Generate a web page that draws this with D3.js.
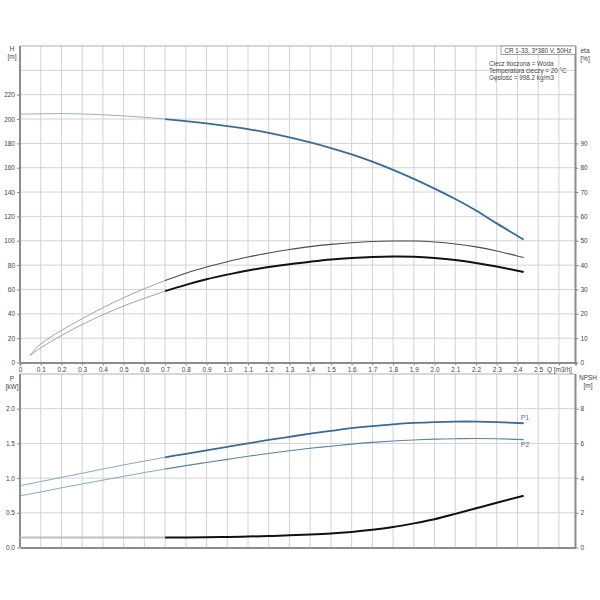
<!DOCTYPE html>
<html>
<head>
<meta charset="utf-8">
<script src="https://cdn.jsdelivr.net/npm/d3@7"></script>
<style>
	body { margin: 0; background: #fff; }
	text { font-family: "Liberation Sans", Arial, sans-serif; fill: #444; }
</style>
</head>
<body>
<div id="idContent"></div>
<script>
// Pump curve values
var aQ = [0, 0.1, 0.2, 0.3, 0.4, 0.5, 0.6, 0.7, 0.8, 0.9, 1.0, 1.1, 1.2, 1.3, 1.4, 1.5, 1.6, 1.7, 1.8, 1.9, 2.0, 2.1, 2.2, 2.3, 2.43];
var aH = [204, 204.3, 204.5, 204.2, 203.5, 202.6, 201.4, 200, 198.3, 196.4, 194.2, 191.7, 188.6, 184.9, 180.8, 176.2, 171.0, 165.0, 158.2, 150.8, 142.8, 134.3, 124.9, 114.3, 101];
var aP1 = [0.89, 0.95, 1.01, 1.07, 1.13, 1.19, 1.245, 1.30, 1.35, 1.40, 1.45, 1.50, 1.55, 1.595, 1.64, 1.68, 1.72, 1.75, 1.775, 1.795, 1.808, 1.815, 1.815, 1.808, 1.79];
var aP2 = [0.745, 0.80, 0.86, 0.915, 0.97, 1.025, 1.08, 1.13, 1.18, 1.225, 1.27, 1.315, 1.355, 1.395, 1.43, 1.46, 1.49, 1.515, 1.535, 1.55, 1.562, 1.568, 1.57, 1.567, 1.555];

var aQEta = [0.05, 0.1, 0.2, 0.3, 0.4, 0.5, 0.6, 0.7, 0.8, 0.9, 1.0, 1.1, 1.2, 1.3, 1.4, 1.5, 1.6, 1.7, 1.8, 1.9, 2.0, 2.1, 2.2, 2.3, 2.43];
var aEtaPump = [3.0, 7.6, 13.2, 18.0, 22.5, 26.6, 30.3, 33.7, 36.7, 39.2, 41.4, 43.3, 45.0, 46.4, 47.6, 48.5, 49.2, 49.7, 49.9, 49.9, 49.5, 48.7, 47.5, 45.8, 43.1];
var aEtaTotal = [3.0, 6.0, 11.1, 15.6, 19.6, 23.2, 26.4, 29.3, 31.9, 34.2, 36.1, 37.8, 39.2, 40.4, 41.4, 42.3, 42.9, 43.3, 43.5, 43.4, 42.9, 42.1, 40.9, 39.4, 37.2];

var aQNpsh = [0, 0.7, 0.8, 0.9, 1.0, 1.1, 1.2, 1.3, 1.4, 1.5, 1.6, 1.7, 1.8, 1.9, 2.0, 2.1, 2.2, 2.3, 2.43];
var aNpsh = [0.57, 0.57, 0.58, 0.59, 0.61, 0.63, 0.66, 0.70, 0.75, 0.81, 0.90, 1.02, 1.18, 1.39, 1.63, 1.94, 2.26, 2.58, 2.98];

var aQTicks = [0, 0.1, 0.2, 0.3, 0.4, 0.5, 0.6, 0.7, 0.8, 0.9, 1.0, 1.1, 1.2, 1.3, 1.4, 1.5, 1.6, 1.7, 1.8, 1.9, 2.0, 2.1, 2.2, 2.3, 2.4, 2.5, 2.6];
var aHTicks = [0, 20, 40, 60, 80, 100, 120, 140, 160, 180, 200, 220];
var aHGrid = [20, 40, 60, 80, 100, 120, 140, 160, 180, 200, 220, 240];
var aEtaTicks = [0, 10, 20, 30, 40, 50, 60, 70, 80, 90];
var aPTicks = [0, 0.5, 1.0, 1.5, 2.0];
var aNpshTicks = [0, 2, 4, 6, 8];
var aInfo = ["Ciecz tłoczona = Woda", "Temperatura cieczy = 20 °C", "Gęstość = 998.2 kg/m3"];
var sTitle = "CR 1-33, 3*380 V, 50Hz";

var nSplit = 0.7; // duty range starts here, thin line before it

function pairs(aX, aY) {
	return aX.map(function (q, i) { return { q: q, v: aY[i] }; });
}

function createChart() {
	var svg = d3.select("#idContent").append("svg")
		.attr("width", 600)
		.attr("height", 600);

	var x = d3.scaleLinear().domain([0, 2.68]).range([20, 575.5]);
	var yH = d3.scaleLinear().domain([0, 260]).range([362.5, 46]);
	var yEta = d3.scaleLinear().domain([0, 130]).range([362.5, 46]);
	var yP = d3.scaleLinear().domain([0, 2.5]).range([547.5, 374]);
	var yN = d3.scaleLinear().domain([0, 10]).range([547.5, 374]);

	var aGridQ = aQTicks.slice(1);

	// grids
	drawGrid(svg, x, aGridQ, yH, aHGrid);
	drawGrid(svg, x, aGridQ, yP, [0.5, 1.0, 1.5, 2.0]);

	// frames
	svg.append("line").attr("x1", 20).attr("x2", 575.5).attr("y1", 46).attr("y2", 46)
		.attr("stroke", "#b0b0b0").attr("stroke-width", 1);
	svg.append("line").attr("x1", 20).attr("x2", 575.5).attr("y1", 374).attr("y2", 374)
		.attr("stroke", "#b0b0b0").attr("stroke-width", 1);

	// top chart axes
	var oBottom = svg.append("g")
		.attr("transform", "translate(0,362.5)")
		.call(d3.axisBottom(x).tickValues(aQTicks).tickSize(3).tickPadding(2)
			.tickFormat(function (d) { return d === 0 ? "0" : (d > 2.55 ? "" : d3.format(".1f")(d)); }));
	styleAxis(oBottom);
	svg.append("text").attr("x", x(2.6) - 12).attr("y", 371.5)
		.attr("font-size", "6.5px").text("Q [m3/h]");

	var oLeftH = svg.append("g")
		.attr("transform", "translate(20,0)")
		.call(d3.axisLeft(yH).tickValues(aHTicks).tickSize(3).tickPadding(2));
	styleAxis(oLeftH);
	oLeftH.select(".domain").attr("d", "M0," + yH(0) + "V46");

	var oRightEta = svg.append("g")
		.attr("transform", "translate(575.5,0)")
		.call(d3.axisRight(yEta).tickValues(aEtaTicks).tickSize(3).tickPadding(2));
	styleAxis(oRightEta);
	oRightEta.select(".domain").attr("d", "M0," + yEta(0) + "V46");

	// bottom chart axes
	var oBottom2 = svg.append("g")
		.attr("transform", "translate(0,547.5)")
		.call(d3.axisBottom(x).tickValues([]).tickSize(0));
	styleAxis(oBottom2);

	var oLeftP = svg.append("g")
		.attr("transform", "translate(20,0)")
		.call(d3.axisLeft(yP).tickValues(aPTicks).tickSize(3).tickPadding(2).tickFormat(d3.format(".1f")));
	styleAxis(oLeftP);
	oLeftP.select(".domain").attr("d", "M0," + yP(0) + "V374");

	var oRightN = svg.append("g")
		.attr("transform", "translate(575.5,0)")
		.call(d3.axisRight(yN).tickValues(aNpshTicks).tickSize(3).tickPadding(2));
	styleAxis(oRightN);
	oRightN.select(".domain").attr("d", "M0," + yN(0) + "V374");

	// axis headings
	addLabel(svg, 12, 51, "H", "middle");
	addLabel(svg, 12, 59, "[m]", "middle");
	addLabel(svg, 585, 53, "eta", "middle");
	addLabel(svg, 585, 61, "[%]", "middle");
	addLabel(svg, 12, 381, "P", "middle");
	addLabel(svg, 12, 389, "[kW]", "middle");
	addLabel(svg, 588, 380, "NPSH", "middle");
	addLabel(svg, 588, 388, "[m]", "middle");

	// info box
	svg.append("rect").attr("x", 501).attr("y", 46).attr("width", 74.5).attr("height", 8.5)
		.attr("fill", "#fff").attr("stroke", "#888").attr("stroke-width", 0.8);
	svg.append("text").attr("x", 538).attr("y", 52.8).attr("text-anchor", "middle")
		.attr("font-size", "6.3px").text(sTitle);
	aInfo.forEach(function (s, i) {
		svg.append("text").attr("x", 489).attr("y", 65.5 + i * 7)
			.attr("font-size", "6.3px").text(s);
	});

	// curves
	drawSplit(svg, x, yH, pairs(aQ, aH), { stroke: "#8aa6c2", width: 0.9 }, { stroke: "#3a6a9a", width: 1.8 });
	drawSplit(svg, x, yEta, pairs(aQEta, aEtaPump), { stroke: "#9a9a9a", width: 0.9 }, { stroke: "#4a4a4a", width: 1.1 });
	drawSplit(svg, x, yEta, pairs(aQEta, aEtaTotal), { stroke: "#9a9a9a", width: 0.9 }, { stroke: "#111", width: 2 });
	drawSplit(svg, x, yP, pairs(aQ, aP1), { stroke: "#7f9cbc", width: 0.9 }, { stroke: "#3a6a9a", width: 1.8 });
	drawSplit(svg, x, yP, pairs(aQ, aP2), { stroke: "#7f9cbc", width: 0.9 }, { stroke: "#5a82aa", width: 1.1 });
	drawSplit(svg, x, yN, pairs(aQNpsh, aNpsh), { stroke: "#c0c0c0", width: 2 }, { stroke: "#111", width: 2 });

	var nEnd = aQ[aQ.length - 1];
	svg.append("text").attr("x", x(nEnd) - 3).attr("y", yP(aP1[aP1.length - 1]) - 3)
		.attr("font-size", "7px").style("fill", "#4a78a8").text("P1");
	svg.append("text").attr("x", x(nEnd) - 3).attr("y", yP(aP2[aP2.length - 1]) + 7)
		.attr("font-size", "7px").style("fill", "#4a78a8").text("P2");
}

function drawGrid(svg, x, aXs, y, aYs) {
	var g = svg.append("g").attr("class", "grid");
	var aYr = y.range();
	g.selectAll(".v").data(aXs).enter().append("line")
		.attr("x1", function (d) { return x(d); })
		.attr("x2", function (d) { return x(d); })
		.attr("y1", aYr[0]).attr("y2", aYr[1])
		.attr("stroke", "#d3d3d3").attr("stroke-width", 1);
	g.selectAll(".h").data(aYs).enter().append("line")
		.attr("x1", x.range()[0]).attr("x2", x.range()[1])
		.attr("y1", function (d) { return y(d); })
		.attr("y2", function (d) { return y(d); })
		.attr("stroke", "#d3d3d3").attr("stroke-width", 1);
}

function styleAxis(g) {
	g.select(".domain").attr("stroke", "#8c8c8c").attr("stroke-width", 2);
	g.selectAll(".tick line").attr("stroke", "#8c8c8c");
	g.selectAll(".tick text").attr("font-size", "6.5px")
		.attr("font-family", "Liberation Sans, Arial, sans-serif").style("fill", "#444");
}

function addLabel(svg, nX, nY, sText, sAnchor) {
	svg.append("text").attr("x", nX).attr("y", nY)
		.attr("text-anchor", sAnchor)
		.attr("font-size", "6.5px")
		.text(sText);
}

function drawSplit(svg, x, y, aData, oThin, oThick) {
	var line = d3.line()
		.x(function (d) { return x(d.q); })
		.y(function (d) { return y(d.v); })
		.curve(d3.curveNatural);
	var aThin = aData.filter(function (d) { return d.q <= nSplit; });
	var aThick = aData.filter(function (d) { return d.q >= nSplit; });
	svg.append("path").datum(aThin).attr("d", line)
		.attr("fill", "none").attr("stroke", oThin.stroke).attr("stroke-width", oThin.width);
	svg.append("path").datum(aThick).attr("d", line)
		.attr("fill", "none").attr("stroke", oThick.stroke).attr("stroke-width", oThick.width);
}

createChart();
</script>
</body>
</html>
